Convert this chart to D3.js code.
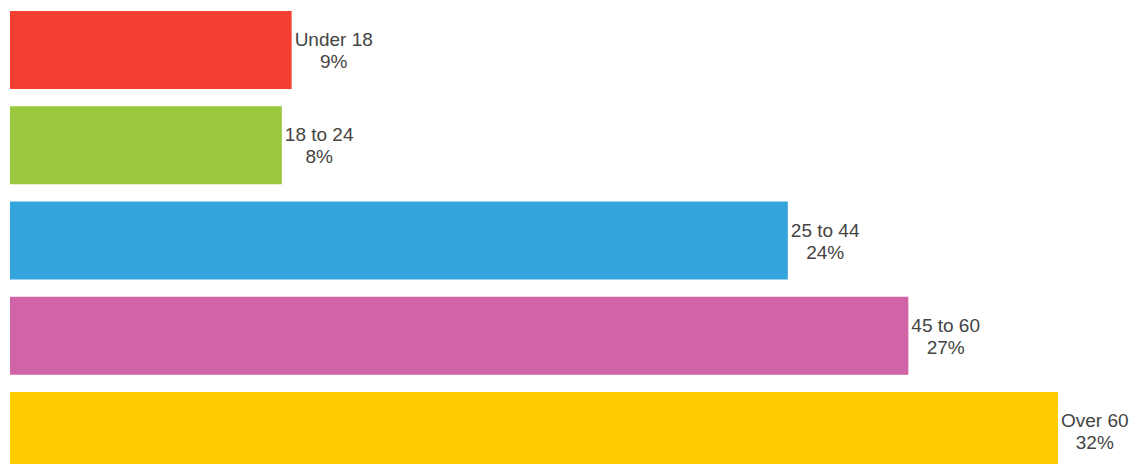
<!DOCTYPE html>
<html>
<head>
<meta charset="utf-8">
<script src="https://cdn.jsdelivr.net/npm/d3@7"></script>
<style>
    html, body { margin: 0; padding: 0; background: #fff; overflow: hidden; }
    .bar-label { font-family: "Liberation Sans", Arial, sans-serif; font-size: 19px; fill: #444; }
</style>
</head>
<body>
<div id="chart"></div>
<script>
const categories = ['Under 18', '18 to 24', '25 to 44', '45 to 60', 'Over 60'];
const shares = [8.6, 8.3, 23.75, 27.43, 32.0];
const colors = ['#f23f32', '#9bc73e', '#34a4dd', '#d064a6', '#ffcc00'];

const width = 1132, height = 464;

const svg = d3.select('#chart')
    .append('svg')
    .attr('width', width)
    .attr('height', height);

const x = d3.scaleLinear()
    .domain([0, d3.max(shares)])
    .range([10, 1058]);

const y = d3.scaleBand()
    .domain(categories)
    .range([11, 470])
    .paddingInner(0.181)
    .paddingOuter(0);

const data = categories.map((c, i) => ({name: c, value: shares[i], color: colors[i]}));

svg.selectAll('.bar')
    .data(data)
    .enter()
    .append('rect')
    .attr('class', 'bar')
    .attr('x', x(0))
    .attr('y', d => y(d.name))
    .attr('width', d => x(d.value) - x(0))
    .attr('height', y.bandwidth())
    .attr('fill', d => d.color);

// two line label, second line centred under the first
const labels = svg.selectAll('.bar-label')
    .data(data)
    .enter()
    .append('g')
    .attr('class', 'bar-label');

labels.each(function(d) {
    const g = d3.select(this);
    const cy = y(d.name) + y.bandwidth() / 2;
    const first = g.append('text')
        .attr('x', x(d.value) + 3)
        .attr('y', cy - 4)
        .text(d.name);
    const w = first.node().getComputedTextLength();
    g.append('text')
        .attr('x', x(d.value) + 3 + w / 2)
        .attr('y', cy + 18)
        .attr('text-anchor', 'middle')
        .text(Math.round(d.value) + '%');
});
</script>
</body>
</html>
